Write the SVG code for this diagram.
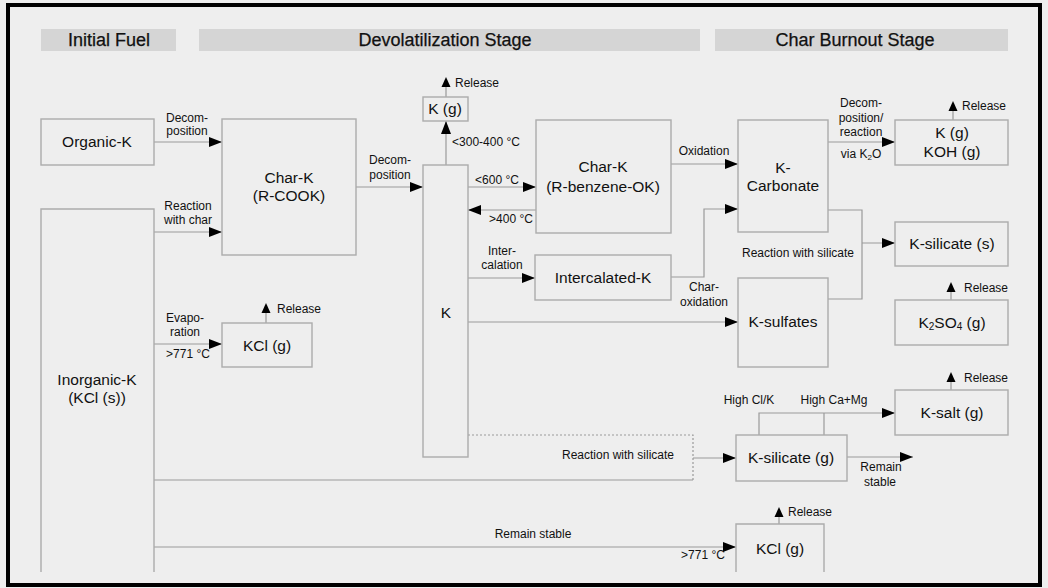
<svg xmlns="http://www.w3.org/2000/svg" width="1048" height="588" viewBox="0 0 1048 588">
<style>
.bg{fill:#eeeeee}
.frame{fill:none;stroke:#000;stroke-width:4}
.bar{fill:#d5d5d5}
.hd{font-family:"Liberation Sans",Arial,sans-serif;font-size:18px;fill:#111;text-anchor:middle;stroke:#111;stroke-width:0.25}
.box{fill:#eeeeee;stroke:#acacac;stroke-width:1.4}
.open{fill:none;stroke:#acacac;stroke-width:1.4}
.nt{font-family:"Liberation Sans",Arial,sans-serif;font-size:15.5px;fill:#111;text-anchor:middle}
.lb{font-family:"Liberation Sans",Arial,sans-serif;font-size:12px;fill:#111;text-anchor:middle}
.rl{font-family:"Liberation Sans",Arial,sans-serif;font-size:12px;fill:#111}
.ln{fill:none;stroke:#9a9a9a;stroke-width:1.2}
.dot{fill:none;stroke:#9a9a9a;stroke-width:1.2;stroke-dasharray:2 2}
.arr{marker-end:url(#ah)}
</style>
<defs>
<marker id="ah" markerUnits="userSpaceOnUse" markerWidth="13" markerHeight="10" refX="13" refY="5" orient="auto">
<path d="M0,0 L13,5 L0,10 Z" fill="#000"/>
</marker>
<path id="rel" d="M-4.5,0 L4.5,0 L0,-10 Z" fill="#000"/>
</defs>
<rect class="bg" x="0" y="0" width="1048" height="588"/>
<rect class="frame" x="8" y="5" width="1032" height="580"/>

<g id="headers">
<rect class="bar" x="41" y="29" width="135" height="22"/>
<text class="hd" x="109" y="46">Initial Fuel</text>
<rect class="bar" x="199" y="29" width="501" height="22"/>
<text class="hd" x="445" y="46">Devolatilization Stage</text>
<rect class="bar" x="715" y="29" width="293" height="22"/>
<text class="hd" x="855" y="46">Char Burnout Stage</text>
</g>

<g id="connectors">
<path class="ln arr" d="M154,142 H222"/>
<path class="ln arr" d="M154,232 H222"/>
<path class="ln arr" d="M154,344 H222"/>
<path class="ln arr" d="M356,187 H423"/>
<path class="ln arr" d="M446,165 V121"/>
<path class="ln arr" d="M468,187 H536"/>
<path class="ln arr" d="M536,210 H468"/>
<path class="ln arr" d="M468,278 H535"/>
<path class="ln arr" d="M468,322 H738"/>
<path class="ln arr" d="M671,164 H738"/>
<path class="ln arr" d="M671,277 H704 V209 H738"/>
<path class="ln arr" d="M828,142 H895"/>
<path class="ln" d="M828,210 H862 V299 H828"/>
<path class="ln arr" d="M862,243 H895"/>
<path class="dot" d="M468,435 H693 V480"/>
<path class="ln" d="M154,480 H693"/>
<path class="ln arr" d="M693,458 H736"/>
<path class="ln arr" d="M759,435 V413 H895"/>
<path class="ln" d="M824,435 V413"/>
<path class="ln arr" d="M847,457 H913"/>
<path class="ln arr" d="M154,547 H736"/>
<path class="ln" d="M266,323 V313 M446,97 V87 M953,120 V111 M951,300 V292 M951,390 V382 M779,524 V517"/>
</g>

<g id="labels">
<text class="lb" x="187" y="122">Decom-</text>
<text class="lb" x="187" y="135">position</text>
<text class="lb" x="188" y="210">Reaction</text>
<text class="lb" x="188" y="224">with char</text>
<text class="lb" x="185" y="322">Evapo-</text>
<text class="lb" x="185" y="336">ration</text>
<text class="lb" x="188" y="358">&gt;771 °C</text>
<text class="lb" x="390" y="164">Decom-</text>
<text class="lb" x="390" y="179">position</text>
<text class="lb" x="486" y="146">&lt;300-400 °C</text>
<text class="lb" x="497" y="184">&lt;600 °C</text>
<text class="lb" x="511" y="223">&gt;400 °C</text>
<text class="lb" x="502" y="255">Inter-</text>
<text class="lb" x="502" y="269">calation</text>
<text class="lb" x="704" y="155">Oxidation</text>
<text class="lb" x="704" y="291">Char-</text>
<text class="lb" x="704" y="306">oxidation</text>
<text class="lb" x="861" y="107">Decom-</text>
<text class="lb" x="861" y="122">position/</text>
<text class="lb" x="861" y="136">reaction</text>
<text class="lb" x="861" y="158">via K<tspan font-size="8" dy="2">2</tspan><tspan dy="-2">O</tspan></text>
<text class="lb" x="798" y="257">Reaction with silicate</text>
<text class="lb" x="749" y="404">High Cl/K</text>
<text class="lb" x="834" y="404">High Ca+Mg</text>
<text class="lb" x="618" y="459">Reaction with silicate</text>
<text class="lb" x="881" y="471">Remain</text>
<text class="lb" x="880" y="486">stable</text>
<text class="lb" x="533" y="538">Remain stable</text>
<text class="lb" x="703" y="559">&gt;771 °C</text>
</g>

<g id="release">
<use href="#rel" x="266" y="313"/><text class="rl" x="277" y="313">Release</text>
<use href="#rel" x="446" y="87"/><text class="rl" x="455" y="87">Release</text>
<use href="#rel" x="953" y="111"/><text class="rl" x="962" y="110">Release</text>
<use href="#rel" x="951" y="292"/><text class="rl" x="964" y="292">Release</text>
<use href="#rel" x="951" y="382"/><text class="rl" x="964" y="382">Release</text>
<use href="#rel" x="779" y="517"/><text class="rl" x="788" y="516">Release</text>
</g>

<g id="organic-k"><rect class="box" x="41" y="119" width="113" height="46"/><text class="nt" x="97" y="147">Organic-K</text></g>
<g id="inorganic-k"><path class="open" d="M41,572 V209 H154 V572"/><text class="nt" x="97" y="385">Inorganic-K</text><text class="nt" x="97" y="403">(KCl (s))</text></g>
<g id="char-k-rcook"><rect class="box" x="222" y="119" width="134" height="136"/><text class="nt" x="289" y="183">Char-K</text><text class="nt" x="289" y="201">(R-COOK)</text></g>
<g id="kcl-g-top"><rect class="box" x="222" y="323" width="90" height="44"/><text class="nt" x="267" y="351">KCl (g)</text></g>
<g id="k-g"><rect class="box" x="423" y="97" width="45" height="24"/><text class="nt" x="445" y="114">K (g)</text></g>
<g id="k"><rect class="box" x="423" y="165" width="45" height="292"/><text class="nt" x="446" y="318">K</text></g>
<g id="char-k-benzene"><rect class="box" x="536" y="120" width="135" height="113"/><text class="nt" x="603" y="172">Char-K</text><text class="nt" x="603" y="192">(R-benzene-OK)</text></g>
<g id="intercalated-k"><rect class="box" x="535" y="255" width="136" height="45"/><text class="nt" x="603" y="283">Intercalated-K</text></g>
<g id="k-carbonate"><rect class="box" x="738" y="120" width="90" height="112"/><text class="nt" x="783" y="173">K-</text><text class="nt" x="783" y="191">Carbonate</text></g>
<g id="k-sulfates"><rect class="box" x="738" y="278" width="90" height="89"/><text class="nt" x="783" y="327">K-sulfates</text></g>
<g id="k-koh-g"><rect class="box" x="895" y="120" width="113" height="45"/><text class="nt" x="952" y="138">K (g)</text><text class="nt" x="952" y="157">KOH (g)</text></g>
<g id="k-silicate-s"><rect class="box" x="895" y="222" width="113" height="44"/><text class="nt" x="952" y="249">K-silicate (s)</text></g>
<g id="k2so4-g"><rect class="box" x="895" y="300" width="113" height="45"/><text class="nt" x="952" y="328">K<tspan font-size="10" dy="2">2</tspan><tspan dy="-2">SO</tspan><tspan font-size="10" dy="2">4</tspan><tspan dy="-2"> (g)</tspan></text></g>
<g id="k-salt-g"><rect class="box" x="895" y="390" width="113" height="45"/><text class="nt" x="952" y="418">K-salt (g)</text></g>
<g id="k-silicate-g"><rect class="box" x="736" y="435" width="111" height="46"/><text class="nt" x="791" y="463">K-silicate (g)</text></g>
<g id="kcl-g-bottom"><path class="open" d="M736,572 V524 H824 V572"/><text class="nt" x="780" y="554">KCl (g)</text></g>
</svg>
